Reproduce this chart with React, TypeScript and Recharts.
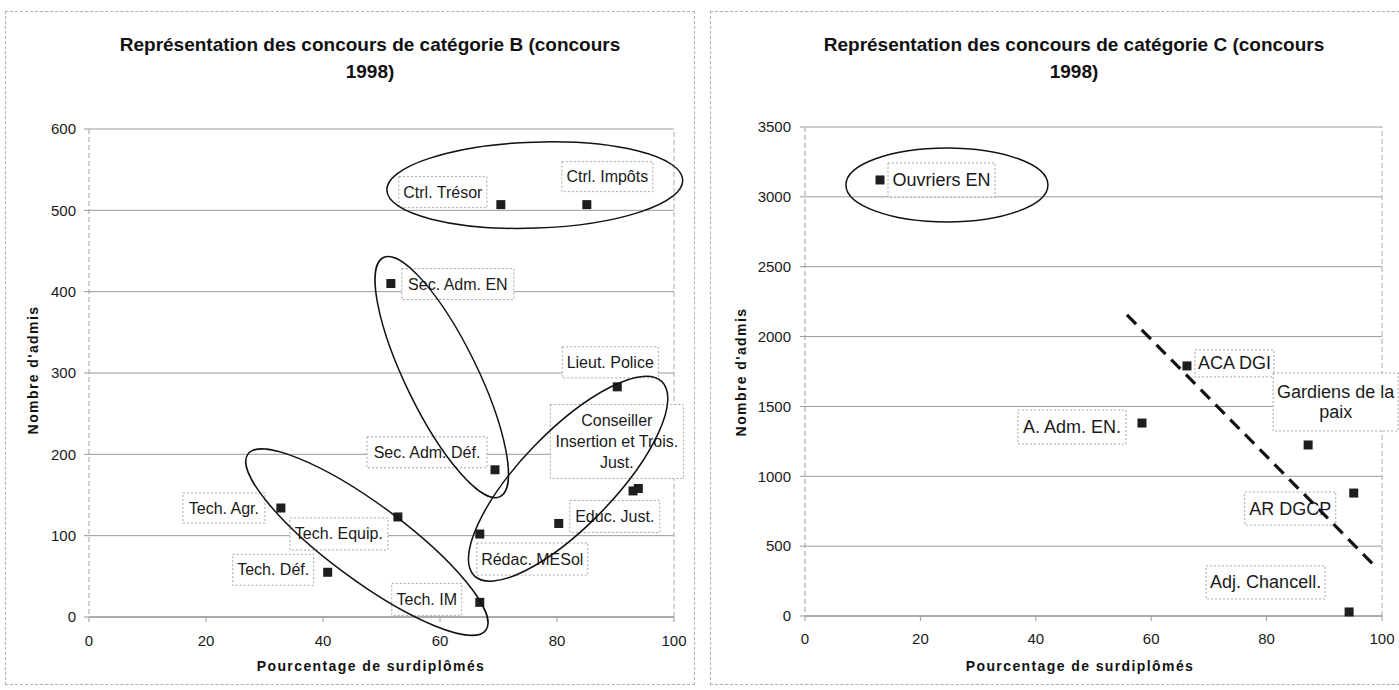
import React from 'react';
import { ScatterChart, Scatter, XAxis, YAxis, CartesianGrid, ReferenceLine } from 'recharts';

// ---------- Catégorie B ----------
const namesB = [
  'Ctrl. Trésor',
  'Ctrl. Impôts',
  'Sec. Adm. EN',
  'Lieut. Police',
  'Conseiller\nInsertion et Trois.\nJust.',
  '',
  'Sec. Adm. Déf.',
  'Educ. Just.',
  'Rédac. MESol',
  'Tech. IM',
  'Tech. Equip.',
  'Tech. Agr.',
  'Tech. Déf.',
];
const pctB = [70.4, 85.1, 51.6, 90.3, 93.9, 93.0, 69.4, 80.3, 66.8, 66.8, 52.8, 32.8, 40.8];
const admisB = [507, 507, 410, 283, 158, 155, 181, 115, 102, 18, 123, 134, 55];
const ticksPctB = [0, 20, 40, 60, 80, 100];
const ticksAdmisB = [0, 100, 200, 300, 400, 500, 600];
// group ellipses (centres, in data units)
const groupPctB = [76.2, 60.3, 47.5, 81.9];
const groupAdmisB = [531, 295, 92, 170];

// ---------- Catégorie C ----------
const namesC = ['Ouvriers EN', 'ACA DGI', 'A. Adm. EN.', 'Gardiens de la\npaix', 'AR DGCP', 'Adj. Chancell.'];
const pctC = [13.0, 66.2, 58.4, 87.2, 95.1, 94.3];
const admisC = [3121, 1790, 1381, 1224, 880, 29];
const ticksPctC = [0, 20, 40, 60, 80, 100];
const ticksAdmisC = [0, 500, 1000, 1500, 2000, 2500, 3000, 3500];
const trendPctC = [55.8, 99.1];
const trendAdmisC = [2155, 344];
const groupPctC = [24.6];
const groupAdmisC = [3085];

// ---------- styles (pixel layout of annotations) ----------
const labelBoxB = [
  { dx: -102, dy: -28, w: 88, h: 31 },
  { dx: -25, dy: -43, w: 91, h: 30 },
  { dx: 11, dy: -15, w: 112, h: 31 },
  { dx: -55, dy: -40, w: 96, h: 31 },
  { dx: -88, dy: -84, w: 133, h: 74 },
  null,
  { dx: -128, dy: -33, w: 120, h: 31 },
  { dx: 11, dy: -23, w: 90, h: 32 },
  { dx: -3, dy: 9, w: 111, h: 32 },
  { dx: -88, dy: -19, w: 70, h: 32 },
  { dx: -108, dy: 1, w: 98, h: 32 },
  { dx: -98, dy: -15, w: 82, h: 30 },
  { dx: -95, dy: -18, w: 81, h: 31 },
];
const labelBoxC = [
  { dx: 8, dy: -17, w: 107, h: 34 },
  { dx: 8, dy: -16, w: 79, h: 27 },
  { dx: -124, dy: -13, w: 108, h: 34 },
  { dx: -35, dy: -72, w: 125, h: 58 },
  { dx: -109, dy: -1, w: 91, h: 33 },
  { dx: -143, dy: -46, w: 119, h: 33 },
];
const ellipseB = [
  { rx: 148, ry: 43, angle: -2 },
  { rx: 133, ry: 36, angle: 64 },
  { rx: 148, ry: 38, angle: 36.5 },
  { rx: 135, ry: 47, angle: -46 },
];
const ellipseC = [{ rx: 101, ry: 37, angle: 0 }];

const FONT = '"Liberation Sans", Arial, Helvetica, sans-serif';
const GRID = '#9a9a9a';

const rowsB = pctB.map((x, i) => ({ x, y: admisB[i], name: namesB[i], i }));
const rowsC = pctC.map((x, i) => ({ x, y: admisC[i], name: namesC[i], i }));
const groupsB = groupPctB.map((x, i) => ({ x, y: groupAdmisB[i], i }));
const groupsC = groupPctC.map((x, i) => ({ x, y: groupAdmisC[i], i }));
const trendRowsC = trendPctC.map((x, i) => ({ x, y: trendAdmisC[i] }));

const squareShape = (props: any) => {
  const { cx, cy } = props;
  if (cx == null || cy == null) return <g />;
  return <rect x={cx - 4.5} y={cy - 4.5} width={9} height={9} fill="#1e1e1e" />;
};

const emptyShape = () => <g />;

const makeLabelShape = (boxes: any[], fontSize: number, lineH: number) => (props: any) => {
  const { cx, cy, payload } = props;
  const b = boxes[payload.i];
  if (!b || !payload.name || cx == null) return <g />;
  const lines = String(payload.name).split('\n');
  const bx = cx + b.dx;
  const by = cy + b.dy;
  return (
    <g>
      <rect x={bx} y={by} width={b.w} height={b.h} fill="#fff" stroke="#9c9c9c" strokeWidth={0.9} strokeDasharray="2 2" />
      {lines.map((ln, k) => (
        <text
          key={k}
          x={bx + b.w / 2}
          y={by + b.h / 2 + (k - (lines.length - 1) / 2) * lineH}
          textAnchor="middle"
          dominantBaseline="central"
          fontFamily={FONT}
          fontSize={fontSize}
          fill="#1a1a1a"
        >
          {ln}
        </text>
      ))}
    </g>
  );
};

const makeEllipseShape = (styles: any[]) => (props: any) => {
  const { cx, cy, payload } = props;
  const s = styles[payload.i];
  if (!s || cx == null) return <g />;
  return (
    <ellipse
      cx={cx}
      cy={cy}
      rx={s.rx}
      ry={s.ry}
      transform={`rotate(${s.angle} ${cx} ${cy})`}
      fill="none"
      stroke="#111"
      strokeWidth={1.5}
    />
  );
};

const abs = (style: React.CSSProperties): React.CSSProperties => ({ position: 'absolute', ...style });

const titleStyle: React.CSSProperties = {
  fontFamily: FONT,
  fontWeight: 'bold',
  fontSize: 19,
  color: '#111',
  textAlign: 'center',
  lineHeight: '27px',
  whiteSpace: 'nowrap',
};
const axisTitleStyle: React.CSSProperties = {
  fontFamily: FONT,
  fontWeight: 'bold',
  fontSize: 14,
  letterSpacing: 1.4,
  color: '#111',
  textAlign: 'center',
  whiteSpace: 'nowrap',
};

export default function App() {
  return (
    <div style={abs({ left: 0, top: 0, width: 1399, height: 690, background: '#fff', overflow: 'hidden' })}>
      {/* frames */}
      <div style={abs({ left: 5, top: 11, width: 690, height: 674, border: '1px dashed #b0b0b0', boxSizing: 'border-box' })} />
      <div style={abs({ left: 710, top: 11, width: 720, height: 674, border: '1px dashed #b0b0b0', boxSizing: 'border-box' })} />

      {/* Chart B */}
      <div style={abs({ left: 0, top: 0, width: 700, height: 690 })}>
        <ScatterChart width={700} height={690} margin={{ top: 129, right: 26, bottom: 43, left: 29 }}>
          <CartesianGrid vertical={false} stroke={GRID} strokeWidth={1} />
          <XAxis
            type="number"
            dataKey="x"
            domain={[0, 100]}
            ticks={ticksPctB}
            height={30}
            tick={{ fontFamily: FONT, fontSize: 15, fill: '#1a1a1a' }}
            tickSize={5}
            tickMargin={13}
            tickLine={{ stroke: GRID }}
            axisLine={{ stroke: '#8a8a8a' }}
          />
          <YAxis
            type="number"
            dataKey="y"
            domain={[0, 600]}
            ticks={ticksAdmisB}
            width={60}
            tick={{ fontFamily: FONT, fontSize: 15, fill: '#1a1a1a' }}
            tickSize={5}
            tickMargin={8}
            tickLine={{ stroke: GRID }}
            axisLine={{ stroke: '#a0a0a0', strokeDasharray: '5 3' }}
          />
          <ReferenceLine x={100} stroke="#a8a8a8" strokeDasharray="5 3" />
          <Scatter data={rowsB} shape={makeLabelShape(labelBoxB, 16, 21)} isAnimationActive={false} />
          <Scatter data={rowsB} shape={squareShape} isAnimationActive={false} />
          <Scatter data={groupsB} shape={makeEllipseShape(ellipseB)} isAnimationActive={false} />
        </ScatterChart>
      </div>

      {/* Chart C */}
      <div style={abs({ left: 700, top: 0, width: 699, height: 690 })}>
        <ScatterChart width={699} height={690} margin={{ top: 127, right: 17, bottom: 44, left: 45 }}>
          <CartesianGrid vertical={false} stroke={GRID} strokeWidth={1} />
          <XAxis
            type="number"
            dataKey="x"
            domain={[0, 100]}
            ticks={ticksPctC}
            height={30}
            tick={{ fontFamily: FONT, fontSize: 15, fill: '#1a1a1a' }}
            tickSize={5}
            tickMargin={12}
            tickLine={{ stroke: GRID }}
            axisLine={{ stroke: '#8a8a8a' }}
          />
          <YAxis
            type="number"
            dataKey="y"
            domain={[0, 3500]}
            ticks={ticksAdmisC}
            width={60}
            tick={{ fontFamily: FONT, fontSize: 15, fill: '#1a1a1a' }}
            tickSize={5}
            tickMargin={9}
            tickLine={{ stroke: GRID }}
            axisLine={{ stroke: '#a0a0a0', strokeDasharray: '5 3' }}
          />
          <ReferenceLine x={100} stroke="#a8a8a8" strokeDasharray="5 3" />
          <Scatter data={rowsC} shape={makeLabelShape(labelBoxC, 18, 20)} isAnimationActive={false} />
          <Scatter data={rowsC} shape={squareShape} isAnimationActive={false} />
          <Scatter data={groupsC} shape={makeEllipseShape(ellipseC)} isAnimationActive={false} />
          <Scatter
            data={trendRowsC}
            shape={emptyShape}
            line={{ stroke: '#111', strokeWidth: 3.2, strokeDasharray: '13 8' }}
            isAnimationActive={false}
          />
        </ScatterChart>
      </div>

      {/* titles */}
      <div style={abs({ left: 70, top: 31, width: 600, ...titleStyle })}>
        Représentation des concours de catégorie B (concours
        <br />
        1998)
      </div>
      <div style={abs({ left: 774, top: 31, width: 600, ...titleStyle })}>
        Représentation des concours de catégorie C (concours
        <br />
        1998)
      </div>

      {/* axis titles */}
      <div style={abs({ left: 171, top: 658, width: 400, ...axisTitleStyle })}>Pourcentage de surdiplômés</div>
      <div style={abs({ left: 880, top: 658, width: 400, ...axisTitleStyle })}>Pourcentage de surdiplômés</div>
      <div
        style={abs({
          left: 33 - 100,
          top: 370 - 10,
          width: 200,
          height: 20,
          lineHeight: '20px',
          transform: 'rotate(-90deg)',
          ...axisTitleStyle,
        })}
      >
        Nombre d'admis
      </div>
      <div
        style={abs({
          left: 741 - 100,
          top: 372 - 10,
          width: 200,
          height: 20,
          lineHeight: '20px',
          transform: 'rotate(-90deg)',
          ...axisTitleStyle,
        })}
      >
        Nombre d'admis
      </div>
    </div>
  );
}
